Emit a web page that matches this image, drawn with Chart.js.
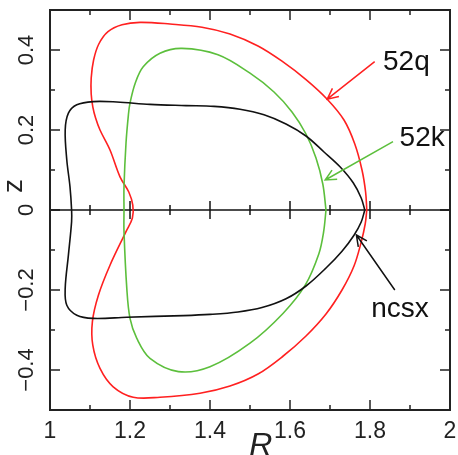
<!DOCTYPE html>
<html>
<head>
<meta charset="utf-8">
<script src="https://cdn.jsdelivr.net/npm/chart.js@4.4.1/dist/chart.umd.min.js"></script>
<style>
  html, body { margin: 0; padding: 0; background: #fff; }
  #wrap { width: 458px; height: 455px; }
</style>
</head>
<body>
<div id="wrap"><canvas id="c" width="458" height="455"></canvas></div>
<script>
// Plasma boundary cross-sections (R, z) for three configurations
const q52R = [1.792, 1.789, 1.780, 1.762, 1.735, 1.693, 1.640, 1.580, 1.520, 1.450,
              1.380, 1.300, 1.225, 1.180, 1.145, 1.122, 1.109, 1.103, 1.103, 1.107,
              1.114, 1.125, 1.150, 1.175, 1.197, 1.207, 1.206, 1.190, 1.150, 1.121,
              1.106, 1.107, 1.125, 1.158, 1.208, 1.275, 1.375, 1.450, 1.520, 1.583,
              1.640, 1.690, 1.730, 1.760, 1.778, 1.788, 1.792];
const q52Z = [0, 0.045, 0.100, 0.165, 0.225, 0.277, 0.326, 0.372, 0.410, 0.440,
              0.457, 0.465, 0.469, 0.463, 0.446, 0.415, 0.375, 0.330, 0.290, 0.258,
              0.230, 0.200, 0.150, 0.083, 0.045, 0.012, -0.020, -0.054, -0.138, -0.213,
              -0.279, -0.338, -0.396, -0.442, -0.468, -0.468, -0.458, -0.440, -0.410, -0.365,
              -0.315, -0.260, -0.200, -0.140, -0.080, -0.035, 0];

const k52R = [1.690, 1.682, 1.665, 1.640, 1.605, 1.560, 1.500, 1.420, 1.330, 1.275,
              1.233, 1.213, 1.200, 1.196, 1.190, 1.185, 1.185, 1.185, 1.192, 1.200,
              1.217, 1.250, 1.321, 1.400, 1.500, 1.583, 1.638, 1.672, 1.684, 1.690];
const k52Z = [0, 0.065, 0.130, 0.190, 0.245, 0.295, 0.342, 0.388, 0.404, 0.392,
              0.358, 0.317, 0.267, 0.238, 0.167, 0.058, 0, -0.054, -0.196, -0.271,
              -0.321, -0.371, -0.404, -0.392, -0.333, -0.258, -0.188, -0.110, -0.055, 0];

const ncsxR = [1.787, 1.778, 1.758, 1.725, 1.685, 1.640, 1.590, 1.535, 1.475, 1.410,
               1.340, 1.250, 1.167, 1.108, 1.067, 1.046, 1.038, 1.042, 1.050, 1.054,
               1.054, 1.046, 1.038, 1.042, 1.067, 1.108, 1.192, 1.333, 1.400, 1.470,
               1.530, 1.590, 1.640, 1.690, 1.730, 1.760, 1.778, 1.787];
const ncsxZ = [0, 0.030, 0.068, 0.108, 0.145, 0.185, 0.215, 0.238, 0.252, 0.259,
               0.261, 0.264, 0.270, 0.271, 0.263, 0.242, 0.200, 0.125, 0.058, 0,
               -0.029, -0.113, -0.196, -0.238, -0.263, -0.271, -0.268, -0.264, -0.261, -0.255,
               -0.244, -0.222, -0.190, -0.145, -0.103, -0.063, -0.030, 0];

// Axis ticks
const xMajor = [1, 1.2, 1.4, 1.6, 1.8, 2];
const xLabels = ['1', '1.2', '1.4', '1.6', '1.8', '2'];
const xMinor = [1.1, 1.3, 1.5, 1.7, 1.9];
const yMajor = [-0.4, -0.2, 0, 0.2, 0.4];
const yLabels = ['\u22120.4', '\u22120.2', '0', '0.2', '0.4'];
const yMinor = [-0.3, -0.1, 0.1, 0.3];

// Callout labels with arrows: text anchor and arrow from/to, in data units
const noteText = ['52q', '52k', 'ncsx'];
const noteColor = ['#ff2020', '#5cbf3c', '#111111'];
const noteAt = [[1.8325, 0.350], [1.874, 0.161], [1.803, -0.267]];
const noteFrom = [[1.8117, 0.3708], [1.8575, 0.171], [1.862, -0.200]];
const noteTo = [[1.693, 0.277], [1.688, 0.075], [1.766, -0.0625]];

const toPoints = (rs, zs) => rs.map((r, i) => ({ x: r, y: zs[i] }));

const FONT = '"Liberation Sans", Arial, sans-serif';
const INK = '#222';

const axesPlugin = {
  id: 'frameAxes',
  beforeDatasetsDraw(chart) {
    const { ctx, chartArea: a, scales: { x, y } } = chart;
    ctx.save();
    ctx.strokeStyle = INK;
    ctx.lineCap = 'butt';

    // tick marks pointing inward on all four sides
    ctx.lineWidth = 1.5;
    const tick = (vals, len) => {
      vals.forEach(v => {
        const px = x.getPixelForValue(v);
        ctx.beginPath();
        ctx.moveTo(px, a.bottom); ctx.lineTo(px, a.bottom - len);
        ctx.moveTo(px, a.top); ctx.lineTo(px, a.top + len);
        ctx.stroke();
      });
    };
    const ytick = (vals, len) => {
      vals.forEach(v => {
        const py = y.getPixelForValue(v);
        ctx.beginPath();
        ctx.moveTo(a.left, py); ctx.lineTo(a.left + len, py);
        ctx.moveTo(a.right, py); ctx.lineTo(a.right - len, py);
        ctx.stroke();
      });
    };
    tick(xMajor, 10); tick(xMinor, 5);
    ytick(yMajor, 10); ytick(yMinor, 5);

    // z = 0 line with crossing ticks
    const y0 = y.getPixelForValue(0);
    ctx.lineWidth = 1.6;
    ctx.strokeStyle = '#111';
    ctx.beginPath();
    ctx.moveTo(a.left, y0); ctx.lineTo(a.right, y0);
    ctx.stroke();
    ctx.lineWidth = 1.5;
    const cross = (vals, len) => vals.forEach(v => {
      const px = x.getPixelForValue(v);
      ctx.beginPath();
      ctx.moveTo(px, y0 - len); ctx.lineTo(px, y0 + len);
      ctx.stroke();
    });
    cross(xMajor.slice(1, -1), 9); cross(xMinor, 5);

    // frame
    ctx.strokeStyle = INK;
    ctx.lineWidth = 2;
    ctx.strokeRect(a.left, a.top, a.right - a.left, a.bottom - a.top);

    // tick labels
    ctx.fillStyle = INK;
    ctx.font = '23px ' + FONT;
    ctx.textAlign = 'center';
    ctx.textBaseline = 'alphabetic';
    xMajor.forEach((v, i) => ctx.fillText(xLabels[i], x.getPixelForValue(v), 438));
    ctx.font = '22px ' + FONT;
    yMajor.forEach((v, i) => {
      ctx.save();
      ctx.translate(33, y.getPixelForValue(v));
      ctx.rotate(-Math.PI / 2);
      ctx.fillText(yLabels[i], 0, 0);
      ctx.restore();
    });

    // axis titles
    ctx.font = '28px ' + FONT;
    ctx.save();
    ctx.translate(22, y.getPixelForValue(0.06));
    ctx.rotate(-Math.PI / 2);
    ctx.fillText('z', 0, 0);
    ctx.restore();
    ctx.font = 'italic 32px ' + FONT;
    ctx.fillText('R', x.getPixelForValue(1.527), 455);
    ctx.restore();
  }
};

const notesPlugin = {
  id: 'callouts',
  afterDatasetsDraw(chart) {
    const { ctx, scales: { x, y } } = chart;
    ctx.save();
    ctx.font = '28px ' + FONT;
    ctx.textAlign = 'left';
    ctx.textBaseline = 'alphabetic';
    noteText.forEach((t, i) => {
      const fx = x.getPixelForValue(noteFrom[i][0]), fy = y.getPixelForValue(noteFrom[i][1]);
      const tx = x.getPixelForValue(noteTo[i][0]), ty = y.getPixelForValue(noteTo[i][1]);
      ctx.strokeStyle = noteColor[i];
      ctx.lineWidth = 1.5;
      ctx.beginPath();
      ctx.moveTo(fx, fy); ctx.lineTo(tx, ty);
      const ang = Math.atan2(fy - ty, fx - tx);
      const L = 12, spread = 0.45;
      ctx.moveTo(tx + L * Math.cos(ang + spread), ty + L * Math.sin(ang + spread));
      ctx.lineTo(tx, ty);
      ctx.lineTo(tx + L * Math.cos(ang - spread), ty + L * Math.sin(ang - spread));
      ctx.stroke();
      ctx.fillStyle = '#111';
      ctx.fillText(t, x.getPixelForValue(noteAt[i][0]), y.getPixelForValue(noteAt[i][1]));
    });
    ctx.restore();
  }
};

const line = (label, rs, zs, color) => ({
  label,
  data: toPoints(rs, zs),
  showLine: true,
  borderColor: color,
  backgroundColor: color,
  borderWidth: 1.6,
  pointRadius: 0,
  tension: 0.35,
  fill: false
});

new Chart(document.getElementById('c'), {
  type: 'scatter',
  data: {
    datasets: [
      line('ncsx', ncsxR, ncsxZ, '#111111'),
      line('52k', k52R, k52Z, '#5cbf3c'),
      line('52q', q52R, q52Z, '#ff2020')
    ]
  },
  options: {
    responsive: false,
    animation: false,
    devicePixelRatio: 1,
    layout: { padding: { left: 50, top: 10, right: 8, bottom: 45 } },
    plugins: { legend: { display: false }, tooltip: { enabled: false } },
    scales: {
      x: { type: 'linear', min: 1, max: 2, display: false },
      y: { type: 'linear', min: -0.5, max: 0.5, display: false }
    }
  },
  plugins: [axesPlugin, notesPlugin]
});
</script>
</body>
</html>
